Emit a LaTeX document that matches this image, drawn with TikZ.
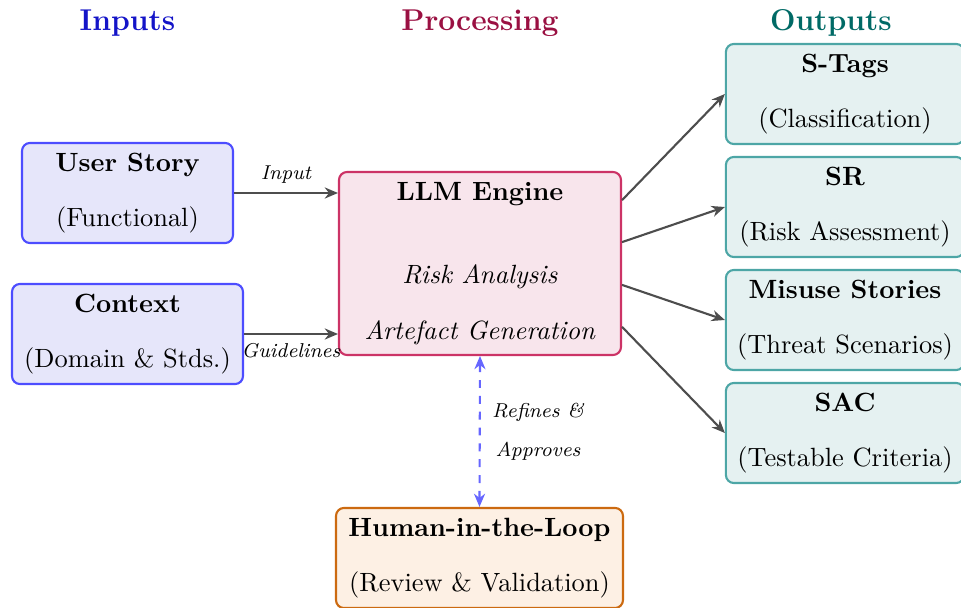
\documentclass[tikz,border=0pt]{standalone}
\usetikzlibrary{arrows.meta}
\definecolor{intitle}{HTML}{1414C8}
\definecolor{prtitle}{HTML}{9A1042}
\definecolor{outtitle}{HTML}{006A66}
\definecolor{inborder}{HTML}{4D4DFF}
\definecolor{infill}{HTML}{E6E6FA}
\definecolor{llmborder}{HTML}{CC3366}
\definecolor{llmfill}{HTML}{F8E5EC}
\definecolor{humborder}{HTML}{CC6A10}
\definecolor{humfill}{HTML}{FDF0E4}
\definecolor{outborder}{HTML}{4DA6A6}
\definecolor{outfill}{HTML}{E5F1F1}
\definecolor{arrowgray}{HTML}{4D4D4D}
\definecolor{dashblue}{HTML}{6666FF}
\begin{document}
\begin{tikzpicture}[x=0.3788pt,y=-0.3788pt,
  basebox/.style={thick, rounded corners=3pt, align=center, minimum height=37.9pt},
  inbox/.style={basebox, draw=inborder, fill=infill},
  llmbox/.style={basebox, draw=llmborder, fill=llmfill, minimum width=106.8pt, minimum height=69.3pt},
  humbox/.style={basebox, draw=humborder, fill=humfill, minimum width=108.7pt},
  outbox/.style={basebox, draw=outborder, fill=outfill, minimum width=90.2pt},
  coltitle/.style={font=\fontsize{11.4}{14}\selectfont\bfseries, anchor=base},
  lbl/.style={font=\fontsize{7.6}{9.2}\selectfont\itshape, text=black},
  flow/.style={draw=arrowgray, thick, -{Stealth[length=5pt,width=4.2pt,inset=1.6pt]}},
  dflow/.style={draw=dashblue, thick, dashed, {Stealth[length=5pt,width=4.2pt,inset=1.6pt]}-{Stealth[length=5pt,width=4.2pt,inset=1.6pt]}}
]
\useasboundingbox (0,0) rectangle (961,608);

% column titles
\node[coltitle, text=intitle] (tin) at (127.5,31) {Inputs};
\node[coltitle, text=prtitle] (tpr) at (480,31) {Processing};
\node[coltitle, text=outtitle] (tout) at (831,31) {Outputs};

% inputs
\node[inbox, minimum width=79.9pt] (us) at (127.5,193) {\textbf{User Story}\\[9pt](Functional)};
\node[inbox, minimum width=87.5pt] (ctx) at (127.5,334) {\textbf{Context}\\[9pt](Domain \& Stds.)};

% processing
\node[llmbox] (llm) at (480,263.5) {\textbf{LLM Engine}\\[19.6pt]\textit{Risk Analysis}\\[9pt]\textit{Artefact Generation}};
\node[humbox] (hum) at (479.5,558) {\textbf{Human-in-the-Loop}\\[9pt](Review \& Validation)};

% outputs
\node[outbox] (st) at (845,94) {\textbf{S-Tags}\\[9pt](Classification)};
\node[outbox] (sr) at (845,207) {\textbf{SR}\\[9pt](Risk Assessment)};
\node[outbox] (ms) at (845,320) {\textbf{Misuse Stories}\\[9pt](Threat Scenarios)};
\node[outbox] (sac) at (845,433) {\textbf{SAC}\\[9pt](Testable Criteria)};

% connectors
\draw[flow] (us.east) -- node[above, lbl]{Input} (llm.west |- us.east);
\draw[flow] (ctx.east) -- node[below, lbl]{Guidelines} (llm.west |- ctx.east);
\draw[flow] ([yshift=24pt]llm.east) -- (st.west);
\draw[flow] ([yshift=8.1pt]llm.east) -- (sr.west);
\draw[flow] ([yshift=-8.1pt]llm.east) -- (ms.west);
\draw[flow] ([yshift=-24pt]llm.east) -- (sac.west);
\draw[dflow] (llm.south) -- node[right=1pt, lbl, align=center]{Refines \&\\[5.5pt]Approves} (hum.north);
\end{tikzpicture}
\end{document}
